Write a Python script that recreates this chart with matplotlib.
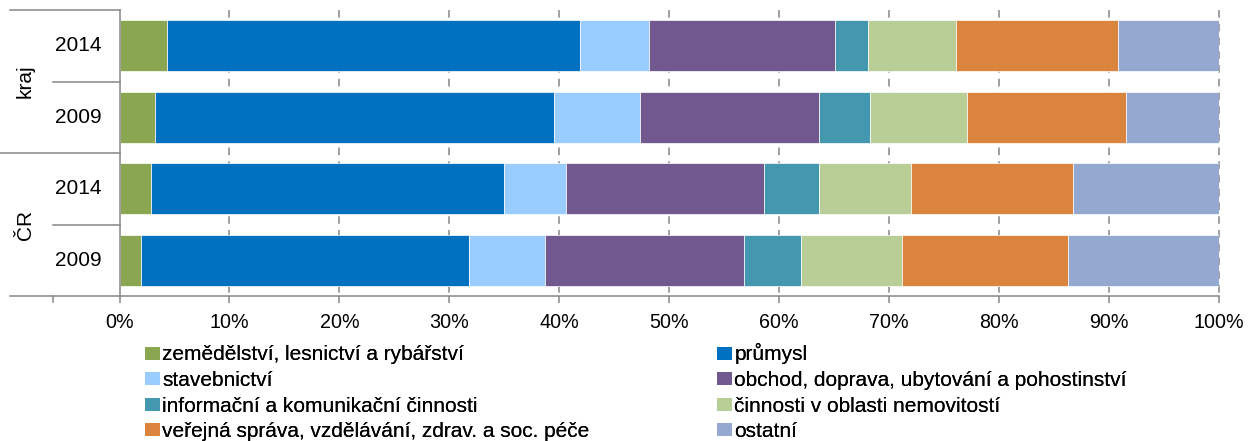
import matplotlib
matplotlib.use('Agg')
import matplotlib.pyplot as plt
from matplotlib.patches import Patch
from matplotlib.ticker import PercentFormatter
import matplotlib.transforms as mtransforms

plt.rcParams['font.family'] = ['Liberation Sans', 'DejaVu Sans']

# ---- data ----
groups = ['kraj', 'ČR']
years = ['2014', '2009', '2014', '2009']
categories = [
    'zemědělství, lesnictví a rybářství',
    'průmysl',
    'stavebnictví',
    'obchod, doprava, ubytování a pohostinství',
    'informační a komunikační činnosti',
    'činnosti v oblasti nemovitostí',
    'veřejná správa, vzdělávání, zdrav. a soc. péče',
    'ostatní',
]
# rows: kraj 2014, kraj 2009, ČR 2014, ČR 2009  (percent shares)
zemedelstvi = [4.3, 3.2, 2.85, 1.95]
prumysl = [37.6, 36.3, 32.15, 29.85]
stavebnictvi = [6.3, 7.8, 5.6, 6.9]
obchod = [16.9, 16.3, 18.0, 18.1]
informacni = [3.0, 4.7, 5.0, 5.2]
nemovitosti = [8.0, 8.8, 8.4, 9.2]
verejna = [14.7, 14.4, 14.7, 15.1]
ostatni = [9.2, 8.5, 13.3, 13.7]
xticks = [0, 10, 20, 30, 40, 50, 60, 70, 80, 90, 100]

series = [zemedelstvi, prumysl, stavebnictvi, obchod, informacni,
          nemovitosti, verejna, ostatni]
colors = ['#8BA650', '#0070C0', '#99CCFF', '#71588F', '#4397AF',
          '#B9CD96', '#DB843D', '#95A9D0']
GRAY = '#868686'

W, H = 1248, 441
fig = plt.figure(figsize=(W / 100, H / 100), dpi=100)
ax = fig.add_axes([119.5 / W, 1 - 296 / H, 1099.5 / W, 286 / H])

ypos = [3, 2, 1, 0]
left = [0.0] * 4
for vals, col in zip(series, colors):
    ax.barh(ypos, vals, left=left, height=0.715, color=col,
            edgecolor='white', linewidth=0.5, zorder=2)
    left = [l + v for l, v in zip(left, vals)]

ax.set_xlim(0, 100)
ax.set_ylim(-0.5, 3.5)
ax.set_xticks(xticks)
ax.xaxis.set_major_formatter(PercentFormatter(100, decimals=0))
ax.set_yticks([])
ax.tick_params(axis='x', length=5, width=1.1, color=GRAY, labelsize=14.2,
               pad=7, labelcolor='black')

for s in ['top', 'right']:
    ax.spines[s].set_visible(False)
for s in ['left', 'bottom']:
    ax.spines[s].set_color(GRAY)
    ax.spines[s].set_linewidth(1.1)

# dashed vertical gridlines (drawn from top down)
for x in xticks[1:]:
    ax.plot([x, x], [3.5, -0.5], color=GRAY, lw=1.1, ls=(0, (5, 4)),
            zorder=1, clip_on=False)

# category axis structure on the left
trans = mtransforms.blended_transform_factory(ax.transAxes, ax.transData)
px = lambda p: (p - 119.5) / 1099.5
for yv, x0 in [(3.5, 10), (2.5, 53), (1.5, 0), (0.5, 53), (-0.5, 10)]:
    ax.plot([px(x0), 0], [yv, yv], color=GRAY, lw=1.1, transform=trans,
            clip_on=False, zorder=3)
ax.plot([px(53), px(53)], [0, -6 / 286], color=GRAY, lw=1.1,
        transform=ax.transAxes, clip_on=False)

for yv, lab in zip(ypos, years):
    ax.text(px(78), yv, lab, transform=trans, ha='center', va='center',
            fontsize=15)
for yv, lab in zip([2.5, 0.5], groups):
    ax.text(px(25), yv, lab, transform=trans, ha='center', va='center',
            fontsize=15, rotation=90)

# legend: two columns, filled row-wise; one entry per legend so the rows
# share a common baseline
row_bottom = [364.5, 390, 415.5, 441]
col_x = [145, 716.7]
common = dict(frameon=False, fontsize=15, loc='lower left', borderpad=0,
              borderaxespad=0, handlelength=0.72, handleheight=0.58,
              handletextpad=0.12)
for i, (cat, col) in enumerate(zip(categories, colors)):
    r, c = divmod(i, 2)
    lg = fig.legend([Patch(facecolor=col, edgecolor='none')], [cat],
                    bbox_to_anchor=(col_x[c] / W, 1 - row_bottom[r] / H),
                    **common)
    fig.add_artist(lg)

fig.savefig('out.png', dpi=100)
